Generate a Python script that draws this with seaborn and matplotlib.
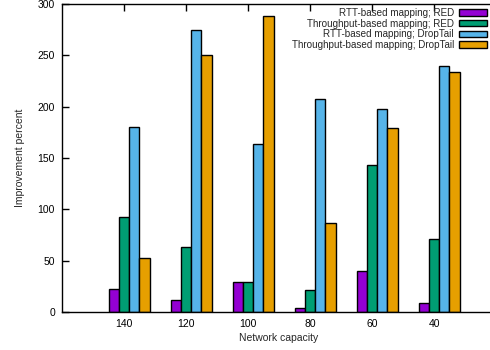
import matplotlib
matplotlib.use("Agg")
import matplotlib.pyplot as plt
import seaborn as sns
import pandas as pd
from matplotlib.patches import Patch

capacities = ["140", "120", "100", "80", "60", "40"]
series = ["RTT-based mapping; RED", "Throughput-based mapping; RED",
          "RTT-based mapping; DropTail", "Throughput-based mapping; DropTail"]
rtt_red = [22, 12, 29, 3.5, 40, 8.5]
thr_red = [93, 63, 29, 21, 143, 71]
rtt_drop = [180.5, 275, 163.5, 207, 198, 240]
thr_drop = [53, 250, 288, 86.5, 179.5, 233.5]
colors = ["#9400D3", "#009E73", "#56B4E9", "#E69F00"]

rows = []
for name, vals in zip(series, [rtt_red, thr_red, rtt_drop, thr_drop]):
    for c, v in zip(capacities, vals):
        rows.append({"capacity": c, "series": name, "value": v})
df = pd.DataFrame(rows)

sns.set_style("white")
plt.rcParams["font.family"] = ["Liberation Sans", "DejaVu Sans"]

fig = plt.figure(figsize=(4.9, 3.5), dpi=100)
ax = fig.add_axes([62 / 490, 38 / 350, 434 / 490, 308 / 350])

total_w = 0.66
sns.barplot(data=df, x="capacity", y="value", hue="series", order=capacities,
            hue_order=series, palette=dict(zip(series, colors)), width=total_w,
            gap=0, edgecolor="black", linewidth=1.0, saturation=1,
            legend=False, ax=ax, errorbar=None)

bw = total_w / 4
ax.set_xticks([i - bw / 2 for i in range(len(capacities))])
ax.set_xticklabels(capacities)
left = -(129.25 - 62) / 62
ax.set_xlim(left, left + 7)
ax.set_ylim(0, 300)
ax.set_yticks(range(0, 301, 50))

for s in ax.spines.values():
    s.set_visible(True)
    s.set_color("black")
    s.set_linewidth(1.0)

ax.tick_params(axis="both", direction="in", length=5, width=1, labelsize=7.5,
               colors="black", pad=5)
ax.tick_params(axis="x", top=True, bottom=True)
ax.tick_params(axis="y", left=True, right=False)

ax.set_xlabel("Network capacity", fontsize=7.5, labelpad=3)
ax.set_ylabel("Improvement percent", fontsize=7.5, labelpad=9)

handles = [Patch(facecolor=c, edgecolor="black", linewidth=1.0) for c in colors]
leg = ax.legend(handles, series, loc="upper right",
                bbox_to_anchor=(487 / 490, 342 / 350), bbox_transform=fig.transFigure,
                frameon=False, markerfirst=False, fontsize=7.1,
                handlelength=2.85, handleheight=0.6, labelspacing=0.07,
                handletextpad=0.5, borderpad=0, borderaxespad=0)

fig.savefig("out.png", dpi=100)
